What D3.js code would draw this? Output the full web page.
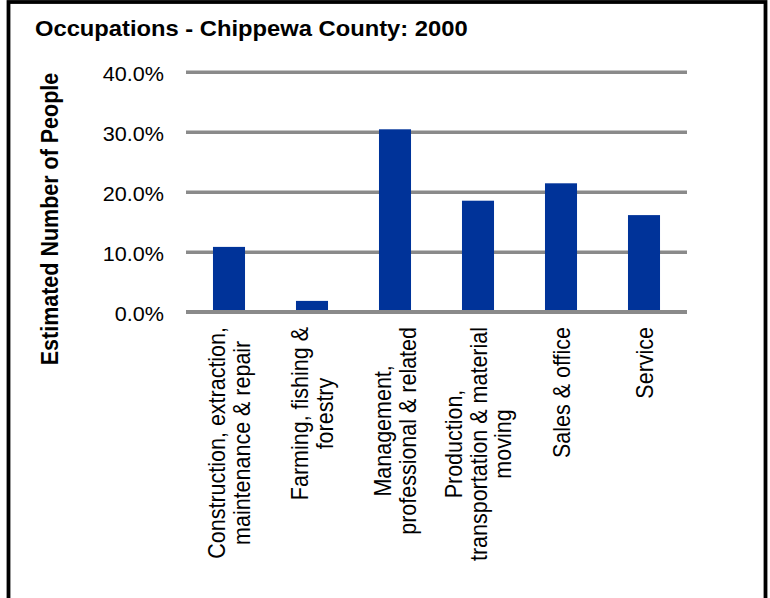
<!DOCTYPE html>
<html>
<head>
<meta charset="utf-8">
<script src="https://cdn.jsdelivr.net/npm/d3@7/dist/d3.min.js"></script>
<style>
  html, body { margin: 0; padding: 0; background: #fff; }
  svg { display: block; }
  text { font-family: "Liberation Sans", Arial, Helvetica, sans-serif; fill: #000; }
</style>
</head>
<body>
<svg id="chart" width="770" height="598"></svg>
<script>
// ---- data ----
const title = "Occupations - Chippewa County: 2000";
const yTitle = "Estimated Number of People";
const categories = [
  "Construction, extraction,\nmaintenance & repair",
  "Farming, fishing &\nforestry",
  "Management,\nprofessional & related",
  "Production,\ntransportation & material\nmoving",
  "Sales & office",
  "Service"
];
const values = [10.8, 1.8, 30.4, 18.5, 21.4, 16.1];
const yTicks = [0, 10, 20, 30, 40];

// ---- layout (screen px) ----
const SX = 1.08;               // slight horizontal stretch seen in the reference
const W = 770, H = 598;
const plotL = 186, plotR = 687, plotT = 71.7, plotB = 311.7;
const labelTop = 327;

const svg = d3.select("#chart");

// border
svg.append("rect")
  .attr("x", 8.5).attr("y", 2).attr("width", 757).attr("height", 800)
  .attr("fill", "none").attr("stroke", "#000").attr("stroke-width", 3.8);

const g = svg.append("g").attr("transform", `scale(${SX},1)`);

const x = d3.scaleBand().domain(categories)
  .range([plotL / SX, plotR / SX])
  .paddingInner(0.614).paddingOuter(0.325);
const y = d3.scaleLinear().domain([0, 40]).range([plotB, plotT]);

// title
g.append("text")
  .attr("x", 35 / SX).attr("y", 36)
  .attr("font-size", 22).attr("font-weight", "bold")
  .text(title);

// y axis with gridlines
const yAxis = d3.axisLeft(y)
  .tickValues(yTicks)
  .tickFormat(d => d.toFixed(1) + "%")
  .tickSize(-(plotR - plotL) / SX)
  .tickPadding(22 / SX);

const ax = g.append("g")
  .attr("transform", `translate(${plotL / SX},0)`)
  .call(yAxis);
ax.select(".domain").remove();
ax.selectAll(".tick line")
  .attr("stroke", "#8a8a8a").attr("stroke-width", 3.6);
ax.selectAll(".tick text")
  .attr("font-size", 20)
  .attr("dy", "0.45em")
  .style("font-family", '"Liberation Sans", Arial, Helvetica, sans-serif')
  .attr("fill", "#000");

// bars
g.append("g").selectAll("rect")
  .data(categories)
  .join("rect")
  .attr("x", d => x(d))
  .attr("width", x.bandwidth())
  .attr("y", (d, i) => y(values[i]))
  .attr("height", (d, i) => y(0) - y(values[i]))
  .attr("fill", "#003399");

// zero line on top
g.append("line")
  .attr("x1", plotL / SX).attr("x2", plotR / SX)
  .attr("y1", y(0)).attr("y2", y(0))
  .attr("stroke", "#8a8a8a").attr("stroke-width", 3.6);

// y-axis title
g.append("text")
  .attr("transform", `translate(${58.3 / SX},219) rotate(-90)`)
  .attr("text-anchor", "middle")
  .attr("font-size", 21.5).attr("font-weight", "bold")
  .text(yTitle);

// category labels (rotated, lines centred, top aligned)
const lineGap = 25 / SX, capOff = 8.5 / SX;
categories.forEach(c => {
  const lines = c.split("\n");
  const n = lines.length;
  const grp = g.append("g")
    .attr("transform", `translate(${x(c) + x.bandwidth() / 2},${labelTop}) rotate(-90)`);
  const texts = lines.map((ln, i) => grp.append("text")
    .attr("font-size", 21.5)
    .attr("text-anchor", "middle")
    .attr("y", (i - (n - 1) / 2) * lineGap + capOff)
    .text(ln));
  const maxLen = d3.max(texts, t => t.node().getComputedTextLength());
  texts.forEach(t => t.attr("x", -maxLen / 2));
});
</script>
</body>
</html>
